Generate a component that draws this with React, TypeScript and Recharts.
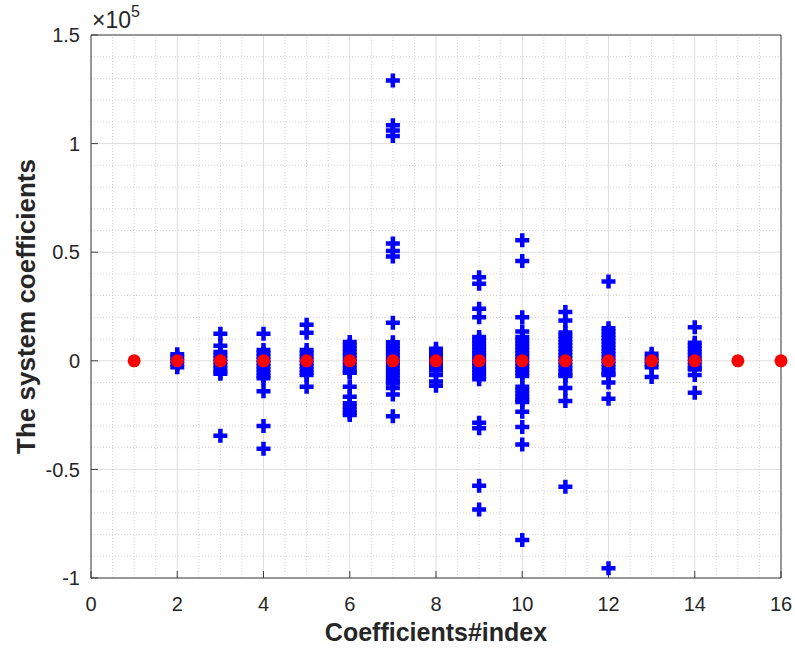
import {
  CartesianGrid,
  Label,
  ReferenceLine,
  Scatter,
  ScatterChart,
  XAxis,
  YAxis,
} from "recharts";

// blue "+" values per coefficient index
const col2 = [3000, 1500, 0, -1500, -3000];
const col3 = [12400, 6900, 4000, 2500, 1000, -500, -2000, -3500, -5000, -6000, -34500];
const col4 = [12400, 5000, 3500, 2000, 500, -1000, -2500, -4000, -5500, -7000, -8000, -14000, -30000, -40500];
const col5 = [16600, 12900, 5000, 3500, 2000, 500, -1000, -2500, -4000, -5500, -6500, -12000];
const col6 = [
  8700, 7000, 5500, 4000, 2500, 1000, -500, -2000, -3500, -5000, -5500, -12000, -16500,
  -19500, -21000, -22500, -24000, -25000,
];
const col7 = [
  129000, 108500, 106000, 103500, 54000, 50500, 48000, 17500, 8500, 7000, 5500, 4000, 2500,
  1000, -500, -2000, -3500, -5000, -6500, -8000, -9500, -10500, -12500, -15500, -25500,
];
const col8 = [5500, 4000, 2500, 1000, -500, -2000, -3500, -4500, -6500, -9500, -11500];
const col9 = [
  38500, 35500, 24000, 20000, 11000, 9500, 8000, 6500, 5000, 3500, 2000, 500, -1000, -2500,
  -4000, -5500, -7000, -8500, -28500, -31000, -57500, -68500,
];
const col10 = [
  55500, 46000, 20000, 13500, 11000, 9500, 8000, 6500, 5000, 3500, 2000, 500, -1000, -2500,
  -4000, -5500, -7000, -12000, -13500, -15000, -16500, -18000, -19000, -23500, -30500,
  -38500, -82500,
];
const col11 = [
  22500, 18500, 13000, 11500, 10000, 8500, 7000, 5500, 4000, 2500, 1000, -500, -2000, -3500,
  -5000, -6500, -7000, -12500, -18500, -58000,
];
const col12 = [
  36500, 15000, 13500, 12000, 10500, 9000, 7500, 6000, 4500, 3000, 1500, 0, -1500, -3000,
  -4500, -6000, -6500, -10000, -17500, -95500,
];
const col13 = [3200, 1500, 0, -1500, -3000, -7500];
const col14 = [15500, 8300, 7000, 5500, 4000, 2500, 1000, -500, -2000, -3500, -4000, -6500, -14700];

const blueColumns: [number, number[]][] = [
  [2, col2], [3, col3], [4, col4], [5, col5], [6, col6], [7, col7], [8, col8],
  [9, col9], [10, col10], [11, col11], [12, col12], [13, col13], [14, col14],
];

// red dots, one per index
const redIndex = [1, 2, 3, 4, 5, 6, 7, 8, 9, 10, 11, 12, 13, 14, 15, 16];
const redValues = [0, 0, 0, 0, 0, 0, 0, 0, 0, 0, 0, 0, 0, 0, 0, 0];

const xTicks = [0, 2, 4, 6, 8, 10, 12, 14, 16];
const yTicks = [-100000, -50000, 0, 50000, 100000, 150000];

const blueData = blueColumns.flatMap(([x, vals]) => vals.map((y) => ({ x, y })));
const redData = redIndex.map((x, i) => ({ x, y: redValues[i] }));

const minorX = Array.from({ length: 33 }, (_, i) => i * 0.5).filter((v) => v % 2 !== 0);
const minorY = Array.from({ length: 26 }, (_, i) => -100000 + i * 10000).filter(
  (v) => v % 50000 !== 0
);

const AXIS = "#404040";
const TEXT = "#262626";
const FONT = "'Liberation Sans', Arial, sans-serif";

const Plus = (props: any) => {
  const { cx, cy } = props;
  if (cx == null || cy == null) return null;
  return (
    <path
      d={`M${cx - 7},${cy}H${cx + 7}M${cx},${cy - 7}V${cy + 7}`}
      stroke="#0000ff"
      strokeWidth={4.5}
      fill="none"
    />
  );
};

const Dot = (props: any) => {
  const { cx, cy } = props;
  if (cx == null || cy == null) return null;
  return <circle cx={cx} cy={cy} r={6.5} fill="#ff0000" />;
};

const fmtY = (v: number) => String(v / 100000);

export default function App() {
  return (
    <div style={{ width: 795, height: 653, background: "#fff" }}>
      <style>{"body{margin:0}"}</style>
      <ScatterChart
        width={795}
        height={653}
        margin={{ top: 34, right: 4, bottom: 30, left: 31 }}
      >
        <CartesianGrid xAxisId="b" yAxisId="l" stroke="#dedede" strokeWidth={1} />
        {minorX.map((v) => (
          <ReferenceLine
            key={`mx${v}`}
            x={v}
            xAxisId="b"
            yAxisId="l"
            stroke="#d2d2d2"
            strokeDasharray="1 2"
          />
        ))}
        {minorY.map((v) => (
          <ReferenceLine
            key={`my${v}`}
            y={v}
            xAxisId="b"
            yAxisId="l"
            stroke="#d2d2d2"
            strokeDasharray="1 2"
          />
        ))}
        <XAxis
          xAxisId="b"
          dataKey="x"
          type="number"
          domain={[0, 16]}
          ticks={xTicks}
          interval={0}
          height={45}
          stroke={AXIS}
          tickSize={-7}
          tickMargin={26}
          tick={{ fill: TEXT, fontSize: 20, fontFamily: FONT }}
        >
          <Label
            content={({ viewBox }: any) => (
              <text
                x={viewBox.x + viewBox.width / 2}
                y={viewBox.y + 63}
                textAnchor="middle"
                fontFamily={FONT}
                fontWeight="bold"
                fontSize={25}
                fill={TEXT}
              >
                Coefficients#index
              </text>
            )}
          />
        </XAxis>
        <XAxis
          xAxisId="t"
          orientation="top"
          type="number"
          domain={[0, 16]}
          ticks={xTicks}
          interval={0}
          height={1}
          stroke={AXIS}
          tickSize={-7}
          tick={false}
        >
          <Label
            content={({ viewBox }: any) => (
              <text
                x={viewBox.x + 1}
                y={viewBox.y - 6}
                fontFamily={FONT}
                fill={TEXT}
                style={{ fontSize: 23 }}
              >
                ×10
                <tspan style={{ fontSize: 16 }} dy={-11}>
                  5
                </tspan>
              </text>
            )}
          />
        </XAxis>
        <YAxis
          yAxisId="l"
          dataKey="y"
          type="number"
          domain={[-100000, 150000]}
          ticks={yTicks}
          interval={0}
          width={60}
          stroke={AXIS}
          tickSize={-7}
          tickMargin={18}
          tickFormatter={fmtY}
          tick={{ fill: TEXT, fontSize: 20, fontFamily: FONT }}
        >
          <Label
            content={({ viewBox }: any) => {
              const cx = viewBox.x - 5;
              const cy = viewBox.y + viewBox.height / 2;
              return (
                <text
                  x={cx}
                  y={cy}
                  transform={`rotate(-90 ${cx} ${cy})`}
                  textAnchor="middle"
                  dominantBaseline="central"
                  fontFamily={FONT}
                  fontWeight="bold"
                  fontSize={26}
                  fill={TEXT}
                >
                  The system coefficients
                </text>
              );
            }}
          />
        </YAxis>
        <YAxis
          yAxisId="r"
          orientation="right"
          type="number"
          domain={[-100000, 150000]}
          ticks={yTicks}
          interval={0}
          width={10}
          stroke={AXIS}
          tickSize={-7}
          tick={false}
        />
        <Scatter
          xAxisId="b"
          yAxisId="l"
          data={blueData}
          shape={Plus}
          isAnimationActive={false}
        />
        <Scatter
          xAxisId="b"
          yAxisId="l"
          data={redData}
          shape={Dot}
          isAnimationActive={false}
        />
      </ScatterChart>
    </div>
  );
}
